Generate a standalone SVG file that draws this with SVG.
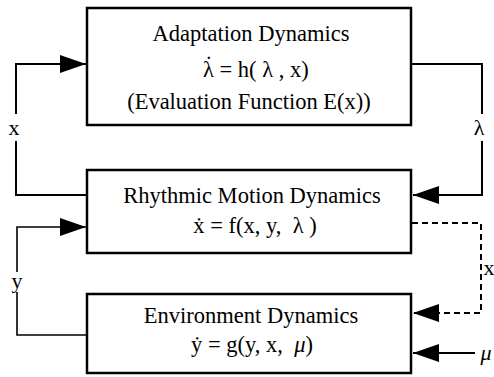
<svg xmlns="http://www.w3.org/2000/svg" width="494" height="377" viewBox="0 0 494 377">
<style>
.box{fill:#fff;stroke:#000;stroke-width:2.5}
.t{font-family:"Liberation Serif","Times New Roman",serif;font-size:22.5px;fill:#000;text-anchor:middle}
.s{text-anchor:start}
.lbl{font-family:"Liberation Serif","Times New Roman",serif;font-size:22px;fill:#000;text-anchor:middle}
.ln{fill:none;stroke:#000;stroke-width:2}
.dash{fill:none;stroke:#000;stroke-width:2;stroke-dasharray:6 4}
</style>
<defs>
<marker id="ah" markerUnits="userSpaceOnUse" markerWidth="26" markerHeight="20" refX="26" refY="10" orient="auto">
<path d="M0,1 L26,10 L0,19 Z" fill="#000"/>
</marker>
</defs>
<rect width="494" height="377" fill="#fff"/>
<g id="connectors">
<path class="ln" d="M87,195 H16 V141"/>
<path class="ln" d="M16,114 V64 H86" marker-end="url(#ah)"/>
<path class="ln" d="M411,64 H482 V114"/>
<path class="ln" d="M482,141 V195 H413" marker-end="url(#ah)"/>
<path class="ln" style="stroke-width:1.6" d="M87,335 H17 V292"/>
<path class="ln" style="stroke-width:1.6" d="M17,272 V227 H86" marker-end="url(#ah)"/>
<path class="dash" d="M412,223 H481 V313 H413" marker-end="url(#ah)"/>
<path class="ln" d="M475,353 H413" marker-end="url(#ah)"/>
<text class="lbl" x="14" y="135">x</text>
<text class="lbl" x="479" y="135">λ</text>
<text class="lbl" x="17" y="288">y</text>
<text class="lbl" x="489" y="275">x</text>
<text class="lbl" x="486" y="360" style="font-style:italic">μ</text>
</g>
<g id="adaptation">
<rect class="box" x="87" y="8" width="324" height="117"/>
<text class="t" x="251" y="41">Adaptation Dynamics</text>
<text class="t s" x="203" y="77">λ<tspan dx="-9" dy="-5">˙</tspan><tspan dx="1.5" dy="5"> = h( λ , x)</tspan></text>
<text class="t" x="249" y="109">(Evaluation Function E(x))</text>
</g>
<g id="rhythmic">
<rect class="box" x="87" y="170" width="324" height="83"/>
<text class="t" x="252" y="203">Rhythmic Motion Dynamics</text>
<text class="t" x="255" y="233" xml:space="preserve">ẋ = f(x, y,  λ )</text>
</g>
<g id="environment">
<rect class="box" x="87" y="294" width="324" height="79"/>
<text class="t" x="251" y="323">Environment Dynamics</text>
<text class="t" x="252" y="352" xml:space="preserve">ẏ = g(y, x,  <tspan style="font-style:italic">μ</tspan>)</text>
</g>
</svg>
